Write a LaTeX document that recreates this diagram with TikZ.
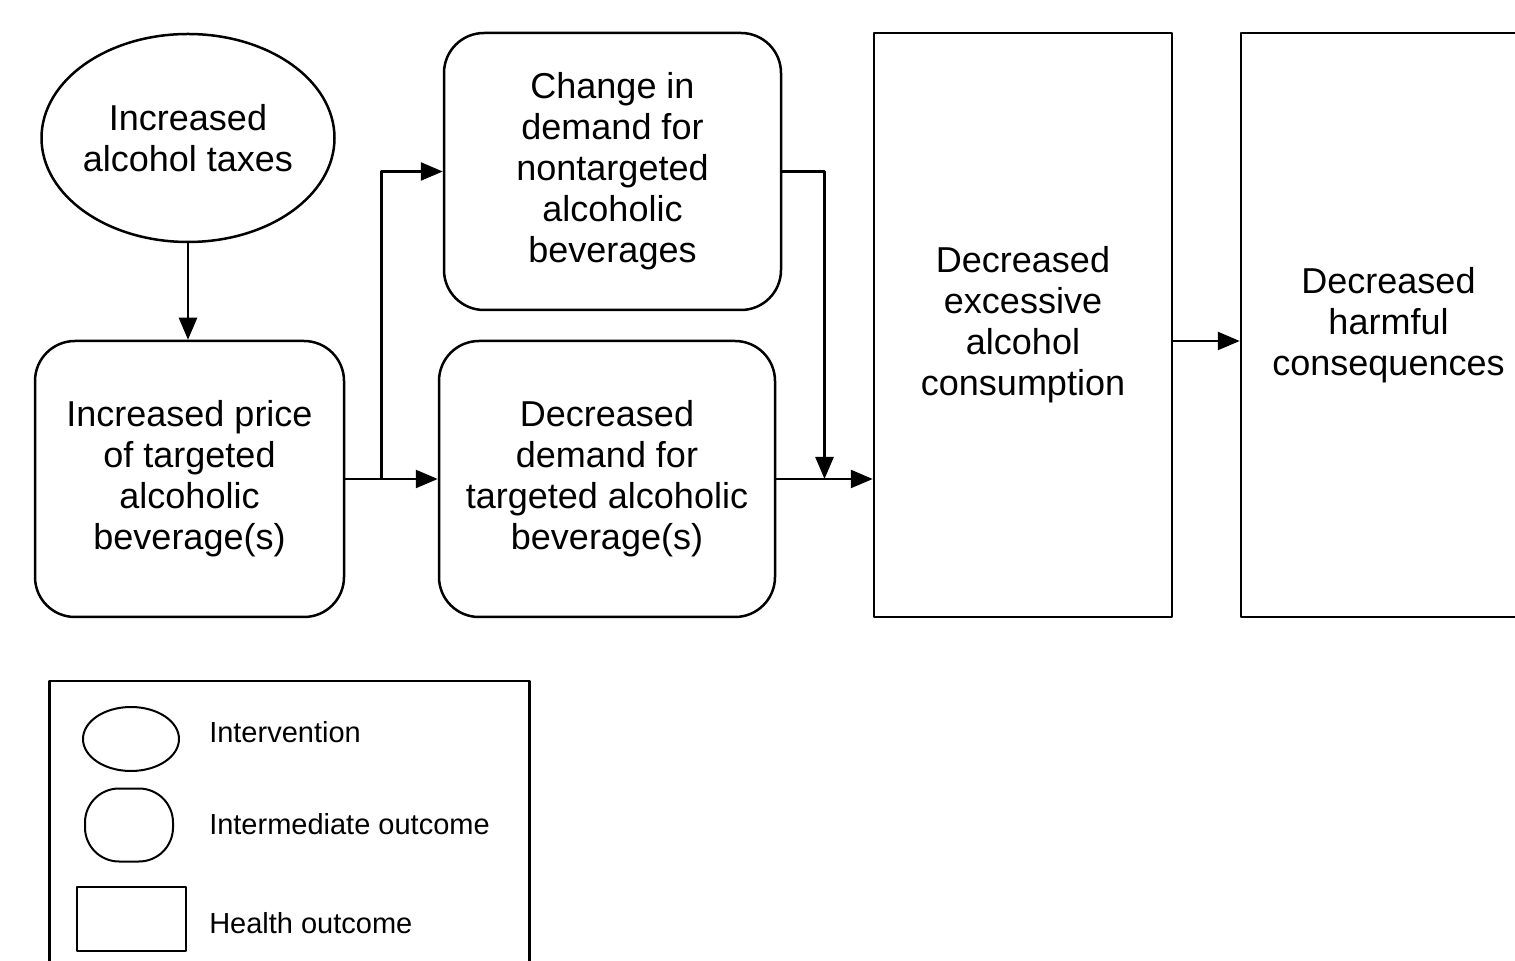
\documentclass[tikz,border=0pt]{standalone}
\usepackage{fontspec}
\setmainfont{Liberation Sans}
\usetikzlibrary{shapes.geometric,arrows.meta,calc}
\newdimen\pxu \pxu=0.5pt
\begin{document}
\begin{tikzpicture}[>={Triangle[length=11pt,width=9pt]},x=0.5pt,y=-0.5pt,line width=1.25pt,line cap=round,line join=round,
		font=\fontsize{18}{20.5}\selectfont,
		oval/.style={draw,ellipse,inner sep=0pt,inner xsep=-3pt,align=center},
		midbox/.style={draw,rounded corners=20pt,align=center},
		outbox/.style={draw,align=center},
		keytext/.style={anchor=west,inner sep=0pt,font=\fontsize{14.5}{17}\selectfont}]
			\useasboundingbox (0,0) rectangle (1515,961);
			\node[oval,minimum width=293\pxu,minimum height=208\pxu] (taxes) at (188,138) {Increased\\alcohol taxes};
			\node[midbox,minimum width=309\pxu,minimum height=276\pxu] (price) at (189.5,479) {Increased price\\of targeted\\alcoholic\\beverage(s)};
			\node[midbox,minimum width=337\pxu,minimum height=277\pxu] (nontarget) at (612.5,171.5) {Change in\\demand for\\nontargeted\\alcoholic\\beverages};
			\node[midbox,minimum width=336\pxu,minimum height=276\pxu] (target) at (607,479) {Decreased\\demand for\\targeted alcoholic\\beverage(s)};
			\node[outbox,minimum width=298\pxu,minimum height=584\pxu] (excess) at (1023,325) {Decreased\\excessive\\alcohol\\consumption};
			\node[outbox,minimum width=295\pxu,minimum height=584\pxu] (harm) at (1388.5,325) {Decreased\\harmful\\consequences};
			% connectors
			\draw[->] (taxes.south) -- (taxes.south |- price.north);
			\draw[->] (price.east) -- (target.west);
			\draw[->] (price.east) -- ++(36,0) |- (nontarget.west);
			\coordinate (merge) at ($(target.east)!0.5!(target.east -| excess.west)$);
			\draw[->] (nontarget.east) -| (merge);
			\draw[->] (target.east) -- (target.east -| excess.west);
			\draw[->] ([yshift=-16\pxu]excess.east) -- ([yshift=-16\pxu]harm.west);
			% legend
			\node[draw,anchor=north west,minimum width=480\pxu,minimum height=320\pxu] (legend) at (48,680) {};
			\begin{scope}[line width=1pt]
				\node[draw,ellipse,minimum width=96\pxu,minimum height=64\pxu] (keyoval) at (131,739) {};
				\node[draw,rounded corners=17pt,minimum width=88\pxu,minimum height=73\pxu] (keymid) at (129,825) {};
				\node[draw,minimum width=109\pxu,minimum height=64\pxu] (keyout) at (131.5,919) {};
			\end{scope}
			\node[keytext] (keyovaltext) at (208,732) {Intervention};
			\node[keytext] (keymidtext) at (208,824) {Intermediate outcome};
			\node[keytext] (keyouttext) at (208,923) {Health outcome};
		\end{tikzpicture}
\end{document}
